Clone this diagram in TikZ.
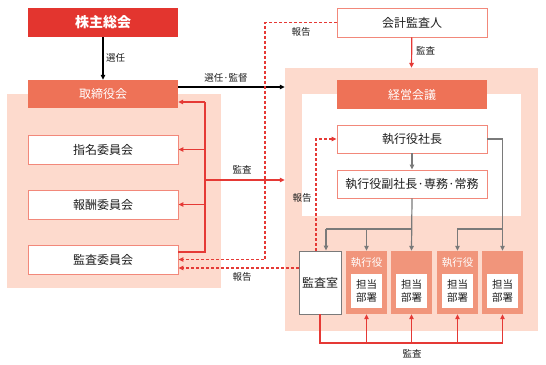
\documentclass[tikz,border=0pt]{standalone}
\usepackage{fontspec}
\setmainfont{Noto Sans CJK JP}
\usetikzlibrary{arrows.meta}
\definecolor{KabuRed}{HTML}{E3352F}
\definecolor{HeadCoral}{HTML}{EE7257}
\definecolor{DeptSalmon}{HTML}{F1957B}
\definecolor{PanelPink}{HTML}{FDDACD}
\definecolor{BoxEdge}{HTML}{F2887A}
\definecolor{LineRed}{HTML}{E53935}
\definecolor{LineGray}{HTML}{7A7A7A}
\definecolor{TextDark}{HTML}{1E1E1E}

\begin{document}
\begin{tikzpicture}[x=1pt,y=-1pt, every node/.style={font=\fontsize{12}{14}\selectfont, inner sep=0pt, text=TextDark},
  panel/.style={fill=PanelPink, draw=none},
  headbox/.style={fill=HeadCoral, draw=none, minimum width=150pt, minimum height=28pt, text=white},
  whitebox/.style={fill=white, draw=BoxEdge, line width=0.8pt, minimum width=150pt, minimum height=28pt},
  deptbox/.style={fill=DeptSalmon, draw=none, minimum width=41pt, minimum height=63pt},
  innerbox/.style={fill=white, draw=none, minimum width=31pt, minimum height=34pt, align=center, font=\fontsize{10.5}{12.5}\selectfont},
  small/.style={font=\fontsize{9.5}{11}\selectfont},
  tip/.style={-{Triangle[length=5pt,width=4.5pt]}},
  redline/.style={draw=LineRed, line width=1.2pt},
  redarrow/.style={redline, tip},
  reddash/.style={draw=LineRed, line width=1.2pt, dash pattern=on 3pt off 2pt, tip},
  grayline/.style={draw=LineGray, line width=1.2pt},
  grayarrow/.style={grayline, tip},
  blackarrow/.style={draw=black, line width=1.1pt, tip}]
  \useasboundingbox (0,0) rectangle (546,364);
  % panels
  \node[panel, minimum width=214pt, minimum height=194pt] (lpanel) at (114,191) {};
  \node[panel, minimum width=253pt, minimum height=263pt] (rpanel) at (411.5,199.5) {};
  \node[fill=white, draw=none, minimum width=219pt, minimum height=122pt] (rinner) at (411.5,155) {};
  % left side
  \node[fill=KabuRed, minimum width=150pt, minimum height=29pt, text=white, font=\fontsize{14}{16}\selectfont\bfseries] (kabu) at (103,22.5) {株主総会};
  \node[headbox] (tori) at (103,94) {取締役会};
  \node[whitebox, minimum height=29pt] (shimei) at (103,149.5) {指名委員会};
  \node[whitebox, minimum height=29pt] (hoshu) at (103,204.5) {報酬委員会};
  \node[whitebox, minimum height=29pt] (kansaI) at (103,259.5) {監査委員会};
  % right side
  \node[whitebox, minimum height=29pt] (kaikei) at (412,22.5) {会計監査人};
  \node[headbox, minimum height=29pt] (keiei) at (412,94.5) {経営会議};
  \node[whitebox] (shacho) at (412,139) {執行役社長};
  \node[whitebox] (fuku) at (412,184) {執行役副社長·専務·常務};
  \node[fill=white, draw=LineGray, line width=0.8pt, minimum width=42pt, minimum height=63pt] (kansashitsu) at (320,282.5) {監査室};
  \foreach \i/\x in {1/366.5,2/411.5,3/457.5,4/502.5} {
    \node[deptbox] (d\i) at (\x,282.5) {};
    \node[innerbox] (in\i) at (\x,291) {担当\\部署};
  }
  \node[text=white, font=\fontsize{10.5}{12}\selectfont] (ex1) at (366.5,262.5) {執行役};
  \node[text=white, font=\fontsize{10.5}{12}\selectfont] (ex3) at (457.5,262.5) {執行役};
  % black arrows
  \draw[blackarrow] (kabu) -- (tori);
  \node[small, anchor=west] (lblSen) at (106,58) {選任};
  \coordinate (selStart) at ([yshift=7pt]tori.east);
  \draw[blackarrow] (selStart) -- (selStart -| rpanel.west);
  \node[small] (lblKan) at (226,78) {選任·監督};
  % red audit lines, left
  \coordinate (audTop) at ([yshift=-8pt]tori.east);
  \coordinate (audBot) at ([yshift=7.5pt]kansaI.east);
  \coordinate (audX) at (205,180);
  \draw[redline] (audBot) -| (audX |- audTop);
  \draw[redarrow] (audX |- audTop) -- (audTop);
  \draw[redarrow] (audX |- shimei.east) -- (shimei.east);
  \draw[redarrow] (audX |- hoshu.east) -- (hoshu.east);
  \draw[redarrow] (audX) -- (audX -| rpanel.west);
  \node[small] (lblAud) at (242,170) {監査};
  \draw[redarrow] (kaikei) -- (rpanel.north);
  \node[small, anchor=west] (lblKai) at (416,51) {監査};
  % dashed reports
  \coordinate (dashX) at (265,0);
  \draw[reddash] (kaikei.west) -| (dashX |- kansaI.east) -- (kansaI.east);
  \node[small] (lblRep1) at (301,32) {報告};
  \coordinate (repLow) at ([yshift=-8.5pt]kansaI.east);
  \draw[reddash] (repLow -| kansashitsu.west) -- (repLow);
  \node[small] (lblRep2) at (242,277) {報告};
  \coordinate (ksUp) at ([xshift=-4pt]kansashitsu.north);
  \draw[reddash] (ksUp) |- (shacho.west);
  \node[small] (lblRep3) at (302,198) {報告};
  % gray command lines
  \coordinate (grayY) at (0,229);
  \coordinate (ksTop) at ([xshift=6pt]kansashitsu.north);
  \draw[grayarrow] (shacho) -- (fuku);
  \draw[grayarrow] (shacho.east) -| (d4.north);
  \draw[grayarrow] (fuku.south) -- (d2.north);
  \draw[grayline] (ksTop |- grayY) -- (fuku.south |- grayY);
  \draw[grayarrow] (ksTop |- grayY) -- (ksTop);
  \draw[grayarrow] (d1.north |- grayY) -- (d1.north);
  \draw[grayarrow] (d4.north |- grayY) -| (d3.north);
  % red audit lines, bottom
  \coordinate (botY) at (0,343);
  \draw[redline] (kansashitsu.south) |- (d4.south |- botY);
  \foreach \i in {1,...,4} {
    \draw[redarrow] (d\i.south |- botY) -- (d\i.south);
  }
  \node[small] (lblBot) at (412,354) {監査};
\end{tikzpicture}
\end{document}
